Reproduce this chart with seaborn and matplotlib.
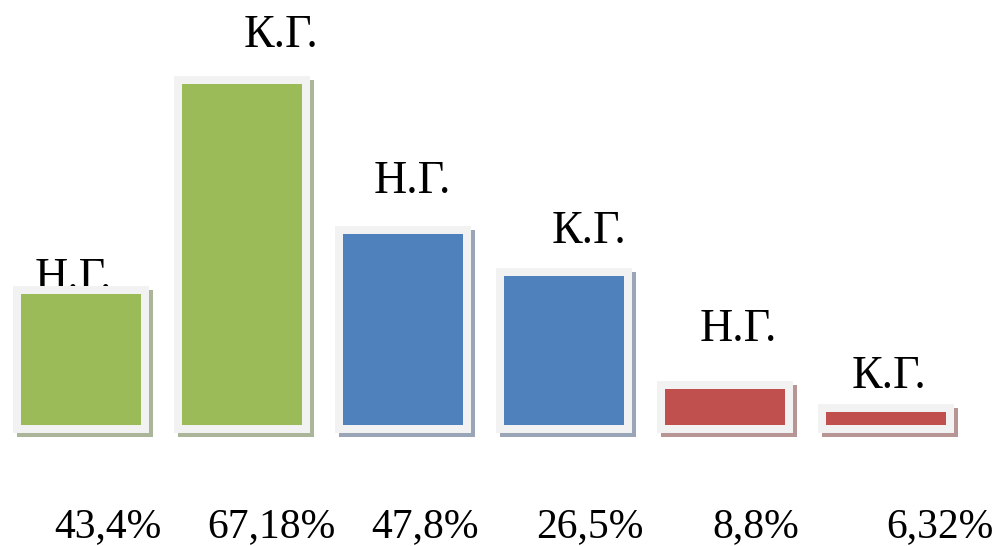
import matplotlib
matplotlib.use("Agg")
import matplotlib.pyplot as plt
import matplotlib.transforms as mtransforms
from matplotlib.patches import Rectangle
import pandas as pd
import seaborn as sns

# data
pct_labels = ['43,4%', '67,18%', '47,8%', '26,5%', '8,8%', '6,32%']
group_labels = ['Н.Г.', 'К.Г.', 'Н.Г.', 'К.Г.', 'Н.Г.', 'К.Г.']
series = ['s1', 's1', 's2', 's2', 's3', 's3']
heights = [26.7, 67.2, 38.3, 30.2, 8.5, 4.0]

colors = {'s1': '#9bbb59', 's2': '#4f81bd', 's3': '#c0504d'}
shadows = {'s1': '#abb59a', 's2': '#9aa6b8', 's3': '#b89595'}

# hand placement of the labels (pixels, relative to bar centre / top)
top_dx = [-8, 39, 9, 25, 13, 3]
top_dy = [0, 33, 37, 29, 44, 20]
bot_dx = [27, 29, 22, 26, 31, 54]
bot_dy = -108

df = pd.DataFrame({'pct': pct_labels, 'height': heights, 'series': series})

sns.set_style('white')
plt.rcParams['font.family'] = ['Liberation Serif', 'DejaVu Serif']

fig = plt.figure(figsize=(10.01, 5.46), dpi=100)
ax = fig.add_axes([0, 0, 1, 1])

sns.barplot(data=df, x='pct', y='height', hue='series', palette=colors,
            saturation=1, dodge=False, width=0.8, legend=False, ax=ax, zorder=3)

frame_lw = 8 * 72 / 100
bars = [p for p in ax.patches if p.get_height() > 0]
bars.sort(key=lambda p: p.get_x())
shadow_tr = mtransforms.offset_copy(ax.transData, fig=fig, x=4, y=-4, units='dots')
for p, s in zip(bars, series):
    p.set_edgecolor('#f2f2f2')
    p.set_linewidth(frame_lw)
    p.set_zorder(3)
    sh = Rectangle((p.get_x(), p.get_y()), p.get_width(), p.get_height(),
                   transform=shadow_tr, facecolor=shadows[s], edgecolor=shadows[s],
                   linewidth=frame_lw, zorder=2)
    ax.add_patch(sh)

for i, (lab, h) in enumerate(zip(group_labels, heights)):
    ax.annotate(lab, xy=(i, h), xytext=(top_dx[i], top_dy[i]),
                textcoords='offset pixels', ha='center', va='baseline',
                fontsize=33, color='black', zorder=1)

for i, lab in enumerate(pct_labels):
    ax.annotate(lab, xy=(i, 0), xytext=(bot_dx[i], bot_dy),
                textcoords='offset pixels', ha='center', va='baseline',
                fontsize=30, color='black', annotation_clip=False)

ax.set_xlim(-81 / 161, (1001 - 81) / 161)
ax.set_ylim((429 - 546) / 5.2, 429 / 5.2)
ax.axis('off')

fig.savefig('out.png', dpi=100)
